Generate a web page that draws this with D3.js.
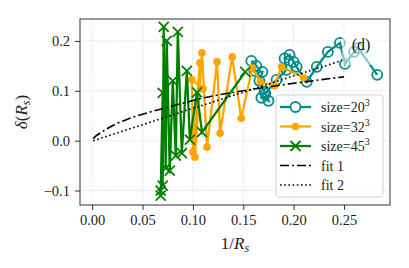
<!DOCTYPE html>
<html><head><meta charset="utf-8">
<script src="https://cdn.jsdelivr.net/npm/d3@7"></script>
<style>body{margin:0;background:#fff}svg{display:block}text{font-family:"Liberation Serif","DejaVu Serif",serif;fill:#222}</style>
</head><body>
<script>
// ---- data ----
const xTicks = [0.00, 0.05, 0.10, 0.15, 0.20, 0.25];
const yTicks = [-0.1, 0.0, 0.1, 0.2];
const xTickLabels = ["0.00","0.05","0.10","0.15","0.20","0.25"];
const yTickLabels = ["\u22120.1","0.0","0.1","0.2"];

const size20X = [0.158,0.163,0.161,0.169,0.166,0.171,0.168,0.175,0.172,0.183,0.193,0.191,0.196,0.200,0.203,0.213,0.223,0.234,0.246,0.251,0.260,0.264,0.283];
const size20Y = [0.160,0.150,0.140,0.138,0.120,0.098,0.086,0.080,0.094,0.122,0.142,0.165,0.172,0.158,0.148,0.118,0.148,0.178,0.196,0.154,0.178,0.186,0.132];

const size32X = [0.110,0.099,0.100,0.107,0.102,0.109,0.114,0.124,0.127,0.139,0.148,0.159,0.167,0.181,0.188,0.210];
const size32Y = [0.104,0.122,-0.023,0.156,-0.033,0.176,-0.013,0.158,0.015,0.168,0.045,0.146,0.118,0.110,0.148,0.126];

const size45X = [0.068,0.068,0.070,0.070,0.071,0.073,0.074,0.077,0.080,0.083,0.085,0.089,0.094,0.097,0.104,0.109,0.152];
const size45Y = [-0.100,-0.110,0.096,-0.090,0.228,-0.055,0.200,-0.060,0.120,-0.030,0.218,-0.025,0.140,0.002,0.097,0.017,0.138];

const fit1X = [0.001,0.004,0.010,0.020,0.035,0.050,0.077,0.111,0.150,0.200,0.250];
const fit1Y = [0.004,0.010,0.018,0.030,0.043,0.053,0.068,0.086,0.100,0.115,0.128];

const fit2X = [0.001,0.050,0.100,0.150,0.200,0.250];
const fit2Y = [0.000,0.032,0.065,0.097,0.130,0.162];

const seriesNames = ["size=20","size=32","size=45","fit 1","fit 2"];
const seriesExp = ["3","3","3","",""];

// ---- layout ----
const W = 409, H = 268;
const svg = d3.select("body").append("svg").attr("width", W).attr("height", H);
const x = d3.scaleLinear().domain([-0.0121, 0.2957]).range([80, 390]);
const y = d3.scaleLinear().domain([-0.129, 0.244]).range([205, 19]);

const zip = (a, b) => a.map((v, i) => [v, b[i]]);

// grid
const grid = svg.append("g");
grid.selectAll(".gx").data(xTicks).join("line")
  .attr("x1", d => x(d)).attr("x2", d => x(d)).attr("y1", 19).attr("y2", 205)
  .attr("stroke", "#c8c8c8").attr("stroke-width", 0.8).attr("stroke-dasharray", "1,1.6");
grid.selectAll(".gy").data(yTicks).join("line")
  .attr("y1", d => y(d)).attr("y2", d => y(d)).attr("x1", 80).attr("x2", 390)
  .attr("stroke", "#c8c8c8").attr("stroke-width", 0.8).attr("stroke-dasharray", "1,1.6");

const line = d3.line().x(d => x(d[0])).y(d => y(d[1]));

// size 20^3 : teal open circles
const teal = "#008b8b", orange = "#ffa500", green = "#008000";
const s20 = zip(size20X, size20Y);
svg.append("path").datum(s20).attr("d", line).attr("fill", "none").attr("stroke", teal).attr("stroke-width", 2.3);
svg.append("g").selectAll("circle").data(s20).join("circle")
  .attr("cx", d => x(d[0])).attr("cy", d => y(d[1])).attr("r", 5)
  .attr("fill", "none").attr("stroke", teal).attr("stroke-width", 1.8);

// size 32^3 : orange filled dots
const s32 = zip(size32X, size32Y);
svg.append("path").datum(s32).attr("d", line).attr("fill", "none").attr("stroke", orange).attr("stroke-width", 2.3);
svg.append("g").selectAll("circle").data(s32).join("circle")
  .attr("cx", d => x(d[0])).attr("cy", d => y(d[1])).attr("r", 3.8).attr("fill", orange);

// size 45^3 : green x markers
const s45 = zip(size45X, size45Y);
svg.append("path").datum(s45).attr("d", line).attr("fill", "none").attr("stroke", green).attr("stroke-width", 2.3);
const xm = 5;
svg.append("g").selectAll("path").data(s45).join("path")
  .attr("d", d => { const cx = x(d[0]), cy = y(d[1]);
    return `M${cx-xm},${cy-xm}L${cx+xm},${cy+xm}M${cx-xm},${cy+xm}L${cx+xm},${cy-xm}`; })
  .attr("stroke", green).attr("stroke-width", 1.8).attr("fill", "none");

// fits
svg.append("path").datum(zip(fit1X, fit1Y)).attr("d", line.curve(d3.curveMonotoneX)).attr("fill", "none")
  .attr("stroke", "#000").attr("stroke-width", 1.6).attr("stroke-dasharray", "9,3,2,3");
svg.append("path").datum(zip(fit2X, fit2Y)).attr("d", d3.line().x(d => x(d[0])).y(d => y(d[1]))).attr("fill", "none")
  .attr("stroke", "#000").attr("stroke-width", 1.6).attr("stroke-dasharray", "1.6,2.6");

// (d) label with translucent box
svg.append("rect").attr("x", 342).attr("y", 29).attr("width", 35).attr("height", 36)
  .attr("fill", "#fff").attr("fill-opacity", 0.55);
svg.append("text").attr("x", 361).attr("y", 50).attr("text-anchor", "middle")
  .attr("font-size", 16).text("(d)");

// axes frame
svg.append("rect").attr("x", 80).attr("y", 19).attr("width", 310).attr("height", 186)
  .attr("fill", "none").attr("stroke", "#333").attr("stroke-width", 1);

// x axis
const xa = svg.append("g").attr("transform", "translate(0,205)")
  .call(d3.axisBottom(x).tickValues(xTicks).tickFormat((d, i) => xTickLabels[i]).tickSize(5).tickPadding(5));
const ya = svg.append("g").attr("transform", "translate(80,0)")
  .call(d3.axisLeft(y).tickValues(yTicks).tickFormat((d, i) => yTickLabels[i]).tickSize(5).tickPadding(5));
[xa, ya].forEach(a => {
  a.select(".domain").remove();
  a.selectAll("line").attr("stroke", "#333");
  a.selectAll("text").attr("font-family", "Liberation Serif, serif").attr("font-size", 14.5).attr("fill", "#222");
});

// axis labels
const xl = svg.append("text").attr("x", 235).attr("y", 249).attr("text-anchor", "middle").attr("font-size", 17);
xl.append("tspan").text("1/");
xl.append("tspan").attr("font-style", "italic").text("R");
xl.append("tspan").attr("font-style", "italic").attr("font-size", 12).attr("dy", 3).text("s");

const yl = svg.append("text").attr("transform", "translate(27,112) rotate(-90)").attr("text-anchor", "middle").attr("font-size", 17);
yl.append("tspan").attr("font-style", "italic").text("\u03b4");
yl.append("tspan").text("(");
yl.append("tspan").attr("font-style", "italic").text("R");
yl.append("tspan").attr("font-style", "italic").attr("font-size", 12).attr("dy", 3).text("s");
yl.append("tspan").attr("dy", -3).text(")");

// legend
const lg = svg.append("g");
lg.append("rect").attr("x", 276).attr("y", 95).attr("width", 107).attr("height", 102).attr("rx", 3)
  .attr("fill", "#fff").attr("fill-opacity", 0.8).attr("stroke", "#d0d0d0").attr("stroke-width", 1);
const rowY = [107, 126.5, 146, 165.5, 185];
const hx1 = 280, hx2 = 311, hc = 295.5;
// handles
lg.append("line").attr("x1", hx1).attr("x2", hx2).attr("y1", rowY[0]).attr("y2", rowY[0]).attr("stroke", teal).attr("stroke-width", 2.3);
lg.append("circle").attr("cx", hc).attr("cy", rowY[0]).attr("r", 5).attr("fill", "#fff").attr("stroke", teal).attr("stroke-width", 1.8);
lg.append("line").attr("x1", hx1).attr("x2", hx2).attr("y1", rowY[1]).attr("y2", rowY[1]).attr("stroke", orange).attr("stroke-width", 2.3);
lg.append("circle").attr("cx", hc).attr("cy", rowY[1]).attr("r", 3.8).attr("fill", orange);
lg.append("line").attr("x1", hx1).attr("x2", hx2).attr("y1", rowY[2]).attr("y2", rowY[2]).attr("stroke", green).attr("stroke-width", 2.3);
lg.append("path").attr("d", `M${hc-xm},${rowY[2]-xm}L${hc+xm},${rowY[2]+xm}M${hc-xm},${rowY[2]+xm}L${hc+xm},${rowY[2]-xm}`)
  .attr("stroke", green).attr("stroke-width", 1.8);
lg.append("line").attr("x1", hx1).attr("x2", hx2).attr("y1", rowY[3]).attr("y2", rowY[3]).attr("stroke", "#000").attr("stroke-width", 1.6).attr("stroke-dasharray", "9,3,2,3");
lg.append("line").attr("x1", hx1).attr("x2", hx2).attr("y1", rowY[4]).attr("y2", rowY[4]).attr("stroke", "#000").attr("stroke-width", 1.6).attr("stroke-dasharray", "1.6,2.6");
seriesNames.forEach((n, i) => {
  const t = lg.append("text").attr("x", 321).attr("y", rowY[i] + 5).attr("font-size", 14);
  t.append("tspan").text(n);
  if (seriesExp[i]) t.append("tspan").attr("font-size", 10).attr("dy", -6).text(seriesExp[i]);
});
</script>
</body></html>
